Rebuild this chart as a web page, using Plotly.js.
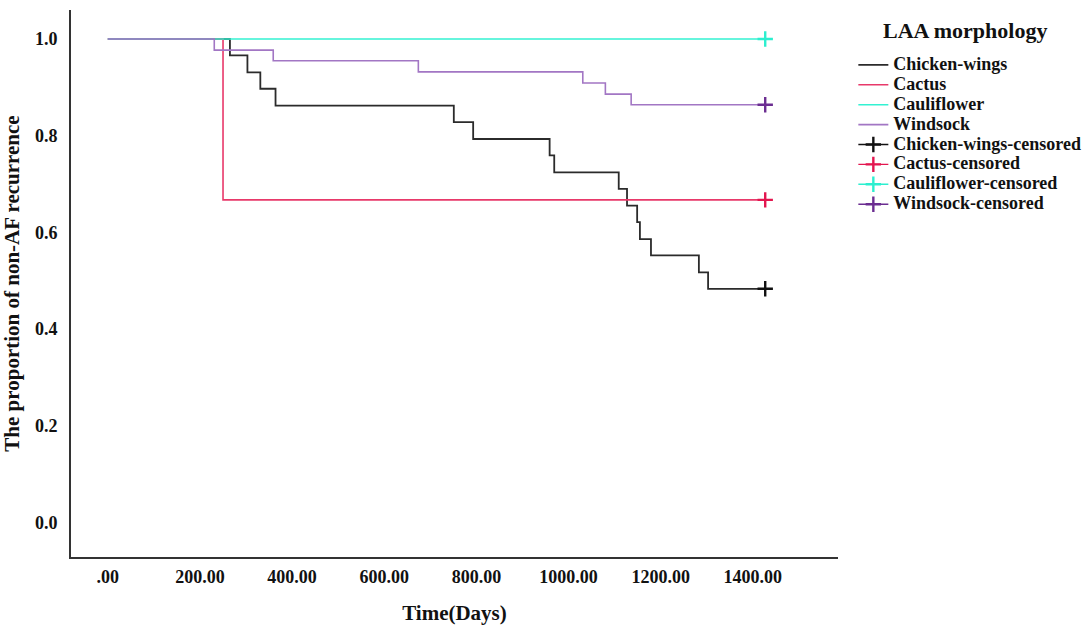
<!DOCTYPE html>
<html>
<head>
<meta charset="utf-8">
<script src="https://cdn.plot.ly/plotly-3.0.1.min.js"></script>
<style>
  html, body { margin: 0; padding: 0; background: #fff; }
  #chart { width: 1084px; height: 630px; }
</style>
</head>
<body>
<div id="chart"></div>
<script>
// Kaplan-Meier step points (days, proportion)
const chickenDays = [0, 265, 303, 331, 364, 751, 793, 959, 969, 1109, 1127, 1149, 1155, 1179, 1283, 1303, 1427];
const chickenSurv = [1, 0.966, 0.931, 0.897, 0.862, 0.828, 0.793, 0.759, 0.724, 0.690, 0.655, 0.621, 0.586, 0.552, 0.517, 0.483, 0.483];

const cactusDays = [0, 250, 1427];
const cactusSurv = [1, 0.667, 0.667];

const caulDays = [0, 1427];
const caulSurv = [1, 1];

const windDays = [0, 231, 359, 674, 1031, 1080, 1136, 1427];
const windSurv = [1, 0.977, 0.955, 0.932, 0.909, 0.886, 0.864, 0.864];

const groups = ['Chicken-wings', 'Cactus', 'Cauliflower', 'Windsock'];
const xTickVals = [0, 200, 400, 600, 800, 1000, 1200, 1400];
const xTickText = ['.00', '200.00', '400.00', '600.00', '800.00', '1000.00', '1200.00', '1400.00'];

const lineColors = ['#2b2b2b', '#e8396a', '#33f2d2', '#a276c4'];
const censorColors = ['#111111', '#e3164f', '#2cefcf', '#6b2d91'];

const series = [
    [chickenDays, chickenSurv],
    [cactusDays, cactusSurv],
    [caulDays, caulSurv],
    [windDays, windSurv]
];

// bigger text in the legend, while the legend row height stays tight
function legendName(s) {
    return '<span style="font-size:18px">' + s + '</span>';
}

const traces = [];
series.forEach(function(s, i) {
    traces.push({
        x: s[0], y: s[1],
        type: 'scatter', mode: 'lines',
        line: { shape: 'hv', color: lineColors[i], width: i === 0 ? 1.8 : 1.6 },
        name: legendName(groups[i])
    });
});
// censored marks (last observation of each group)
series.forEach(function(s, i) {
    const n = s[0].length - 1;
    traces.push({
        x: [s[0][n]], y: [s[1][n]],
        type: 'scatter', mode: 'lines+markers',
        line: { color: censorColors[i], width: 1.4 },
        marker: { symbol: 'cross-thin', size: 11, line: { color: censorColors[i], width: 2.4 } },
        name: legendName(groups[i] + '-censored')
    });
});

const serif = 'Liberation Serif, Times New Roman, serif';

const layout = {
    width: 1084, height: 630,
    margin: { l: 71, r: 246, t: 10, b: 73, autoexpand: false },
    paper_bgcolor: '#fff', plot_bgcolor: '#fff',
    font: { family: serif, color: '#111', size: 15 },
    xaxis: {
        range: [-80, 1585],
        tickvals: xTickVals, ticktext: xTickText,
        showgrid: false, zeroline: false,
        showline: true, linecolor: '#333', linewidth: 2,
        ticks: '', ticklabelstandoff: 2,
        tickfont: { family: serif, size: 18, weight: 'bold' },
        title: { text: 'Time(Days)', font: { family: serif, size: 21, weight: 'bold' }, standoff: 20 }
    },
    yaxis: {
        range: [-0.072, 1.06],
        dtick: 0.2, tick0: 0, tickformat: '.1f',
        showgrid: false, zeroline: false,
        showline: true, linecolor: '#333', linewidth: 2,
        ticks: '', ticklabelstandoff: 8,
        tickfont: { family: serif, size: 18, weight: 'bold' },
        title: { text: 'The proportion of non-AF recurrence', font: { family: serif, size: 21, weight: 'bold' }, standoff: 12 }
    },
    legend: {
        x: 1.02, y: 0.927, xanchor: 'left', yanchor: 'top',
        font: { family: serif, size: 13, weight: 'bold' },
        itemwidth: 30, tracegroupgap: 0
    },
    annotations: [{
        text: 'LAA morphology', showarrow: false,
        xref: 'paper', yref: 'paper', x: 1.166, y: 0.962,
        xanchor: 'center', yanchor: 'middle',
        font: { family: serif, size: 22, weight: 'bold', color: '#111' }
    }],
    showlegend: true
};

Plotly.newPlot('chart', traces, layout, { displayModeBar: false });
</script>
</body>
</html>
